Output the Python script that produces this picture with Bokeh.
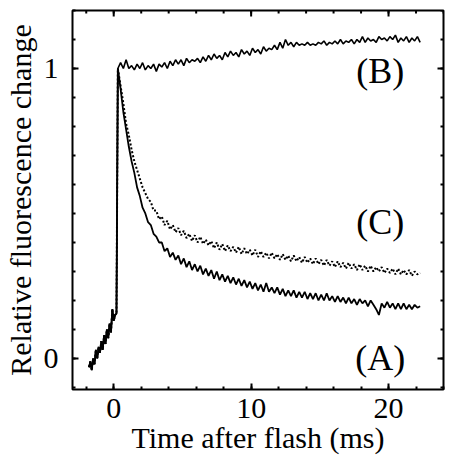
import math
from bokeh.plotting import figure
from bokeh.models import Range1d, FixedTicker
from bokeh.embed import file_html
from bokeh.resources import INLINE
from bokeh.core.properties import value

# ---- data ----
pre_t = [-1.8, -1.7, -1.6, -1.5, -1.4, -1.3, -1.2, -1.1, -1.0, -0.9, -0.8,
         -0.7, -0.6, -0.5, -0.4, -0.3, -0.2, -0.1, 0.0, 0.1, 0.2]
pre_y = [-0.03, -0.01, -0.04, 0.0, -0.02, 0.03, 0.0, 0.04, 0.02, 0.06, 0.03,
         0.08, 0.05, 0.10, 0.07, 0.12, 0.09, 0.17, 0.13, 0.15, 0.155]

a_post = [1.00, 0.93, 0.85, 0.79, 0.73, 0.68, 0.64, 0.59, 0.56, 0.52,
          0.50, 0.47, 0.46, 0.43, 0.42, 0.40, 0.40, 0.37, 0.38, 0.35,
          0.365, 0.34, 0.355, 0.325, 0.345, 0.315, 0.335, 0.305, 0.325, 0.30,
          0.32, 0.29, 0.31, 0.285, 0.305, 0.275, 0.30, 0.27, 0.29, 0.265,
          0.285, 0.26, 0.28, 0.255, 0.275, 0.25, 0.27, 0.245, 0.265, 0.24,
          0.26, 0.235, 0.255, 0.23, 0.26, 0.23, 0.245, 0.225, 0.245, 0.22,
          0.24, 0.215, 0.235, 0.215, 0.235, 0.21, 0.23, 0.21, 0.23, 0.205,
          0.225, 0.205, 0.225, 0.20, 0.22, 0.20, 0.225, 0.20, 0.215, 0.195,
          0.215, 0.195, 0.21, 0.19, 0.21, 0.19, 0.205, 0.185, 0.205, 0.19,
          0.20, 0.18, 0.20, 0.185, 0.17, 0.15, 0.19, 0.175, 0.195, 0.175,
          0.19, 0.17, 0.19, 0.17, 0.19, 0.17, 0.185, 0.17, 0.185, 0.175,
          0.18]

c_post = [1.00, 0.94, 0.88, 0.81, 0.77, 0.72, 0.68, 0.65, 0.62, 0.59,
          0.57, 0.55, 0.54, 0.51, 0.51, 0.48, 0.49, 0.46, 0.475, 0.445,
          0.46, 0.435, 0.45, 0.425, 0.44, 0.415, 0.43, 0.405, 0.425, 0.40,
          0.42, 0.395, 0.41, 0.39, 0.405, 0.38, 0.40, 0.375, 0.395, 0.37,
          0.39, 0.37, 0.385, 0.365, 0.385, 0.36, 0.38, 0.36, 0.375, 0.355,
          0.375, 0.35, 0.37, 0.35, 0.365, 0.345, 0.365, 0.345, 0.36, 0.34,
          0.36, 0.34, 0.355, 0.335, 0.355, 0.335, 0.35, 0.33, 0.35, 0.33,
          0.345, 0.325, 0.345, 0.325, 0.34, 0.32, 0.34, 0.32, 0.335, 0.315,
          0.335, 0.315, 0.33, 0.31, 0.33, 0.31, 0.325, 0.305, 0.325, 0.305,
          0.32, 0.30, 0.32, 0.30, 0.315, 0.30, 0.315, 0.295, 0.31, 0.295,
          0.31, 0.29, 0.31, 0.29, 0.305, 0.29, 0.305, 0.285, 0.30, 0.29,
          0.295]

b_post = [1.00, 1.02, 1.00, 1.03, 1.00, 1.01, 0.995, 1.015, 1.00, 1.02,
          0.995, 1.01, 1.00, 1.015, 0.99, 1.015, 1.005, 1.02, 1.00, 1.025,
          1.01, 1.03, 1.015, 1.03, 1.01, 1.035, 1.02, 1.03, 1.025, 1.035,
          1.02, 1.04, 1.025, 1.045, 1.03, 1.05, 1.035, 1.045, 1.03, 1.055,
          1.04, 1.06, 1.045, 1.055, 1.04, 1.065, 1.05, 1.06, 1.045, 1.07,
          1.055, 1.065, 1.05, 1.075, 1.06, 1.07, 1.065, 1.08, 1.065, 1.09,
          1.07, 1.10, 1.08, 1.09, 1.075, 1.09, 1.08, 1.085, 1.08, 1.09,
          1.08, 1.085, 1.08, 1.09, 1.085, 1.095, 1.08, 1.09, 1.085, 1.095,
          1.085, 1.10, 1.085, 1.095, 1.09, 1.10, 1.085, 1.10, 1.09, 1.11,
          1.09, 1.105, 1.095, 1.10, 1.09, 1.11, 1.10, 1.105, 1.095, 1.11,
          1.10, 1.115, 1.09, 1.105, 1.095, 1.11, 1.09, 1.105, 1.095, 1.11,
          1.09]

post_start = 0.3   # ms, first sample after the flash
post_step = 0.2    # ms, sampling interval

x_ticks = [0, 10, 20]
x_minor = [-2, 0, 2, 4, 6, 8, 10, 12, 14, 16, 18, 20, 22, 24]
y_ticks = [0, 1]
y_minor = [-0.1, 0.0, 0.1, 0.2, 0.3, 0.4, 0.5, 0.6, 0.7, 0.8, 0.9, 1.0, 1.1, 1.2]

curve_labels = ["(A)", "(B)", "(C)"]
label_x = [19.4, 19.4, 19.4]
label_y = [0.0, 0.99, 0.47]

# ---- build series ----
n = len(a_post)
post_t = [round(post_start + post_step * i, 2) for i in range(n)]
tA = pre_t + post_t
yA = pre_y + a_post
tB = pre_t + post_t[:len(b_post)]
yB = pre_y + b_post
tC = pre_t + post_t[:len(c_post)]
yC = pre_y + c_post

FONT = "Liberation Serif"

xr = Range1d(-3, 24)
yr = Range1d(-0.107, 1.2)
p = figure(width=446, height=465, output_backend="svg", toolbar_location=None,
           x_range=xr, y_range=yr,
           min_border_left=65, min_border_right=3, min_border_top=10,
           min_border_bottom=76)
p.grid.visible = False
p.outline_line_color = "black"
p.outline_line_width = 2
p.background_fill_color = "white"
p.border_fill_color = "white"

p.line(tB, yB, line_color="black", line_width=1.6)
p.line(tC, yC, line_color="black", line_width=2.0, line_dash="2 2")
p.line(tA, yA, line_color="black", line_width=1.8)

p.text(label_x, label_y, text=curve_labels, text_font=value(FONT),
       text_font_size="36px", text_align="center", text_baseline="middle",
       text_color="black")

# ticks on the top and right frame edges (inward), clipped to the frame
p.scatter(x_ticks, [yr.end] * len(x_ticks), marker="dash", angle=math.pi / 2,
          size=12, line_color="black", line_width=2)
p.scatter(x_minor, [yr.end] * len(x_minor), marker="dash", angle=math.pi / 2,
          size=6, line_color="black", line_width=2)
p.scatter([xr.end] * len(y_ticks), y_ticks, marker="dash",
          size=12, line_color="black", line_width=2)
p.scatter([xr.end] * len(y_minor), y_minor, marker="dash",
          size=6, line_color="black", line_width=2)

def style_axis(ax, ticks, minor):
    ax.ticker = FixedTicker(ticks=ticks, minor_ticks=minor)
    ax.axis_line_color = None
    ax.major_tick_in = 6
    ax.major_tick_out = 0
    ax.minor_tick_in = 3
    ax.minor_tick_out = 0
    ax.major_tick_line_width = 2
    ax.minor_tick_line_width = 2
    ax.major_tick_line_color = "black"
    ax.minor_tick_line_color = "black"
    ax.major_label_text_font = FONT
    ax.major_label_text_font_size = "30px"
    ax.major_label_text_color = "black"
    ax.axis_label_text_font = FONT
    ax.axis_label_text_font_size = "30px"
    ax.axis_label_text_font_style = "normal"
    ax.axis_label_text_color = "black"

xb = p.xaxis[0]
yl = p.yaxis[0]
style_axis(xb, x_ticks, x_minor)
style_axis(yl, y_ticks, y_minor)
xb.axis_label = "Time after flash (ms)"
yl.axis_label = "Relative fluorescence change"
xb.major_label_standoff = 9
xb.axis_label_standoff = 0
yl.major_label_standoff = 14
yl.axis_label_standoff = 4

open("out.html", "w").write(file_html(p, INLINE))
